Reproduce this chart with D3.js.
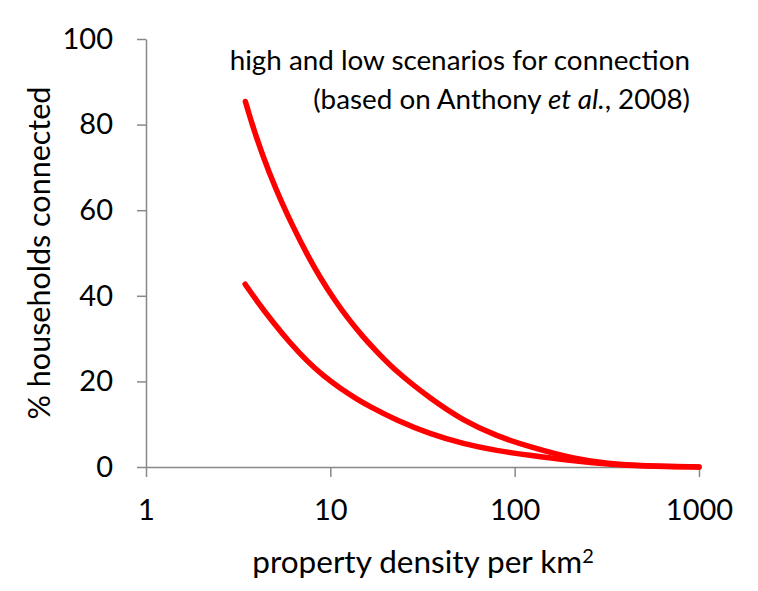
<!DOCTYPE html>
<html><head><meta charset="utf-8">
<script src="https://cdn.jsdelivr.net/npm/d3@7"></script>
<style>
body{margin:0;background:#fff;}
text{font-family:Lato,"Open Sans",sans-serif;fill:#000;}
</style></head>
<body><svg id="c" width="758" height="591"></svg>
<script>
const highX = [3.46, 3.95, 4.67, 5.45, 6.30, 7.45, 8.79, 10.4, 12.3, 15.1, 17.9, 22.9, 34.8, 52.7, 80, 121, 210, 319, 500, 1000];
const highY = [85.4, 77.1, 68.6, 61.8, 56.0, 49.8, 44.3, 39.4, 35.0, 30.3, 26.9, 22.2, 16.0, 10.8, 7.2, 4.7, 1.9, 0.8, 0.25, 0];
const lowX = [3.45, 3.99, 4.91, 6.04, 7.45, 9.16, 11.3, 13.9, 16.1, 22.9, 34.8, 52.7, 80, 121, 209, 320, 500, 1000];
const lowY = [42.7, 38.8, 33.7, 29.0, 24.8, 21.3, 18.4, 15.9, 14.3, 10.9, 7.7, 5.4, 3.8, 2.7, 1.4, 0.65, 0.2, 0];
const xTicks = [1, 10, 100, 1000];
const yTicks = [0, 20, 40, 60, 80, 100];

const svg = d3.select("#c");
const x = d3.scaleLog().domain([1, 1000]).range([146, 699]);
const y = d3.scaleLinear().domain([0, 100]).range([467, 39]);
const axisColor = "#888";

const gx = svg.append("g").attr("transform", "translate(0,467)")
  .call(d3.axisBottom(x).tickValues(xTicks).tickFormat(d3.format("d")).tickSize(10).tickSizeOuter(0).tickPadding(22));
const gy = svg.append("g").attr("transform", "translate(146,0)")
  .call(d3.axisLeft(y).tickValues(yTicks).tickSize(9).tickSizeOuter(0).tickPadding(24));
[gx, gy].forEach(g => {
  g.selectAll("path,line").attr("stroke", axisColor).attr("stroke-width", 1.5);
  g.selectAll("text").style("font-size", "29px").style("font-family", "Lato,sans-serif").attr("fill", "#000");
});

const line = d3.line().x(d => x(d[0])).y(d => y(d[1])).curve(d3.curveBasis);
[[highX, highY], [lowX, lowY]].forEach(([xs, ys]) => {
  svg.append("path").datum(xs.map((v, i) => [v, ys[i]]))
    .attr("d", line).attr("fill", "none").attr("stroke", "#ff0000")
    .attr("stroke-width", 5.5).attr("stroke-linecap", "round");
});

svg.append("text").attr("transform", "translate(50,253) rotate(-90)")
  .attr("text-anchor", "middle").style("font-size", "30.5px").text("% households connected");
const xt = svg.append("text").attr("x", 423).attr("y", 573).attr("text-anchor", "middle").style("font-size", "31.5px");
xt.append("tspan").text("property density per km");
xt.append("tspan").attr("dy", -10).style("font-size", "20px").text("2");

svg.append("text").attr("x", 690).attr("y", 70).attr("text-anchor", "end").style("font-size", "27.8px")
  .text("high and low scenarios for connection");
const t2 = svg.append("text").attr("x", 690).attr("y", 109).attr("text-anchor", "end").style("font-size", "27.8px");
t2.append("tspan").text("(based on Anthony ");
t2.append("tspan").style("font-style", "italic").text("et al.");
t2.append("tspan").text(", 2008)");
</script></body></html>
